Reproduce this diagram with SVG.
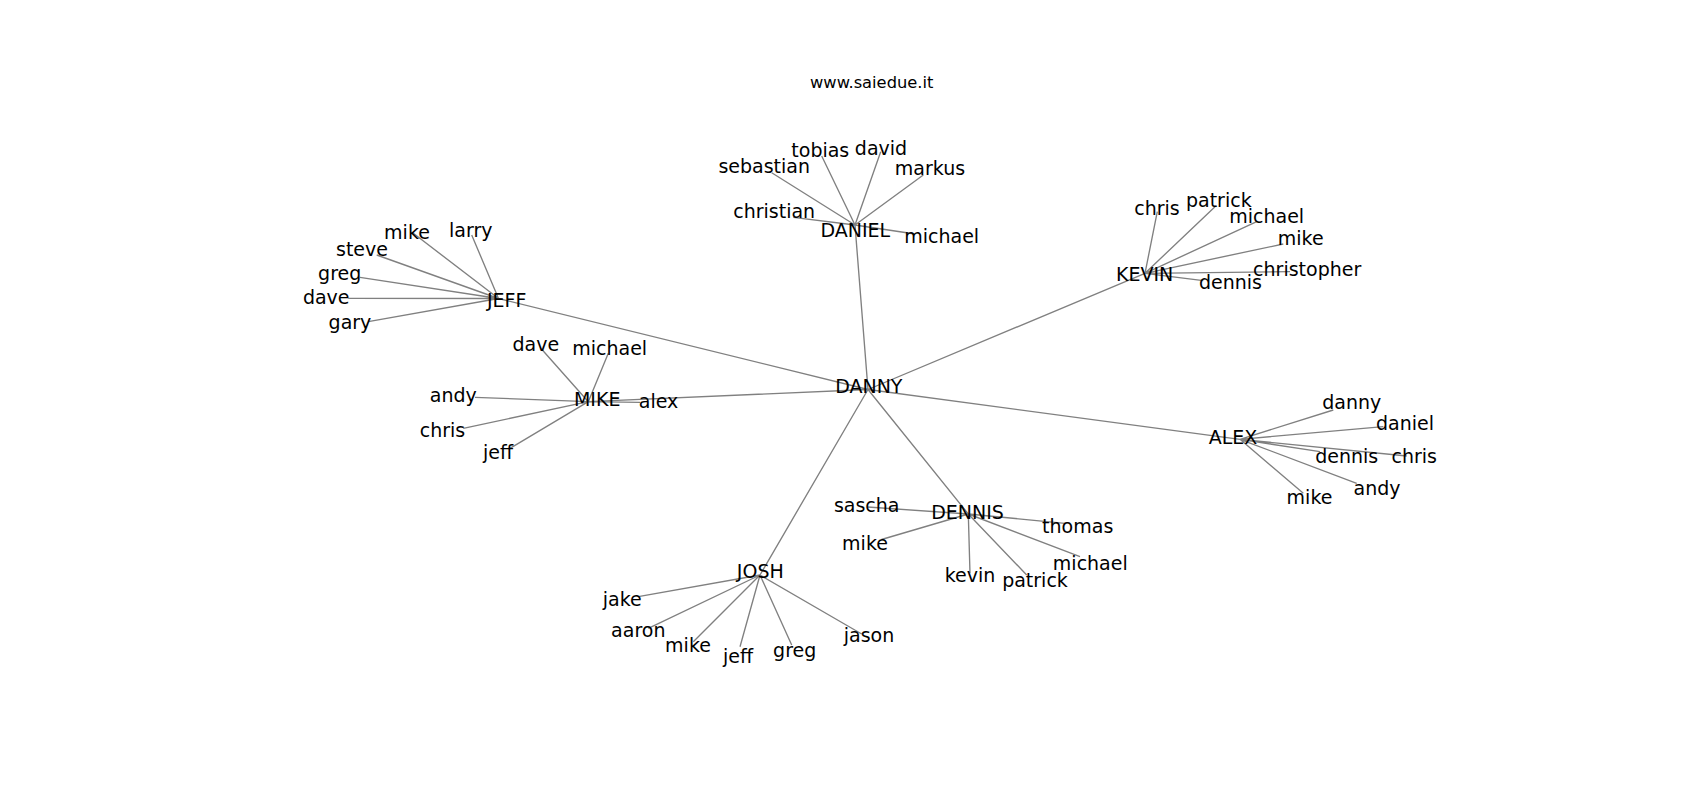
<svg xmlns="http://www.w3.org/2000/svg" width="1700" height="800" viewBox="0 0 1700 800">
<style>
.e{stroke:#808080;stroke-width:1.35;fill:none}
text{font-family:"DejaVu Sans",sans-serif;font-size:19px;fill:#000;text-anchor:middle}
.t{font-size:16.3px}
</style>
<rect width="1700" height="800" fill="#fff"/>
<text class="t" x="871.7" y="88">www.saiedue.it</text>
<g id="edges">
<path class="e" d="M868,389.5L498.5,298.5M868,389.5L588.3,401.7M868,389.5L855,225M868,389.5L1145,273.3M868,389.5L1240,439.3M868,389.5L760,575M868,389.5L968.3,514"/>
<path class="e" d="M498.5,298.5L471.7,235M498.5,298.5L413.3,233.3M498.5,298.5L376.7,255M498.5,298.5L360,277.3M498.5,298.5L348.3,298.3M498.5,298.5L368.3,321.7"/>
<path class="e" d="M588.3,401.7L541.7,349.3M588.3,401.7L608.3,353.3M588.3,401.7L475,397.3M588.3,401.7L463.3,428.3M588.3,401.7L510,448.3M588.3,401.7L640,402.3"/>
<path class="e" d="M855,225L771.7,172.7M855,225L821.7,156M855,225L880.7,151.7M855,225L923.3,175M855,225L793.3,217.3M855,225L915,234"/>
<path class="e" d="M1145,273.3L1157.3,211.7M1145,273.3L1215,206.7M1145,273.3L1256.7,221.7M1145,273.3L1283.3,244M1145,273.3L1290,271.7M1145,273.3L1203.3,280.7"/>
<path class="e" d="M1240,439.3L1333.3,410M1240,439.3L1383.3,426.7M1240,439.3L1320,451.7M1240,439.3L1406.7,456M1240,439.3L1356.7,483.3M1240,439.3L1303.3,493.3"/>
<path class="e" d="M760,575L638.3,596.7M760,575L648.3,628.3M760,575L693.3,641.7M760,575L740,646.7M760,575L791.7,645M760,575L861.7,634"/>
<path class="e" d="M968.3,514L867.5,507M968.3,514L881.5,539.5M968.3,514L1065,523.3M968.3,514L1080,556.7M968.3,514L970,573.3M968.3,514L1026.7,575"/>
</g>
<g id="DANNY"><text x="868.8" y="393.3">DANNY</text></g>
<g id="JEFF"><text x="506.7" y="306.7">JEFF</text></g>
<g id="MIKE"><text x="597.2" y="406">MIKE</text></g>
<g id="DANIEL"><text x="855.3" y="237">DANIEL</text></g>
<g id="KEVIN"><text x="1144.7" y="281">KEVIN</text></g>
<g id="ALEX"><text x="1233" y="444">ALEX</text></g>
<g id="JOSH"><text x="760.3" y="577.7">JOSH</text></g>
<g id="DENNIS"><text x="967.5" y="519.3">DENNIS</text></g>
<g id="jeff-leaves">
<text x="470.8" y="237.3">larry</text>
<text x="407" y="239.3">mike</text>
<text x="362" y="256">steve</text>
<text x="339.7" y="280">greg</text>
<text x="326.2" y="304">dave</text>
<text x="350" y="329">gary</text>
</g>
<g id="mike-leaves">
<text x="535.8" y="350.7">dave</text>
<text x="609.7" y="355">michael</text>
<text x="453.3" y="401.7">andy</text>
<text x="442.5" y="437.3">chris</text>
<text x="498" y="459.3">jeff</text>
<text x="658.5" y="408.3">alex</text>
</g>
<g id="daniel-leaves">
<text x="764.2" y="173.3">sebastian</text>
<text x="820.3" y="156.7">tobias</text>
<text x="881" y="155">david</text>
<text x="930" y="175">markus</text>
<text x="774.2" y="218.3">christian</text>
<text x="941.7" y="242.7">michael</text>
</g>
<g id="kevin-leaves">
<text x="1157" y="215">chris</text>
<text x="1218.8" y="206.7">patrick</text>
<text x="1266.7" y="222.7">michael</text>
<text x="1300.7" y="245">mike</text>
<text x="1307.2" y="276">christopher</text>
<text x="1230.5" y="289.3">dennis</text>
</g>
<g id="alex-leaves">
<text x="1351.7" y="409.3">danny</text>
<text x="1405" y="430">daniel</text>
<text x="1346.7" y="462.7">dennis</text>
<text x="1414.2" y="463.3">chris</text>
<text x="1377" y="495">andy</text>
<text x="1309.5" y="504">mike</text>
</g>
<g id="josh-leaves">
<text x="622.2" y="606">jake</text>
<text x="638.3" y="636.7">aaron</text>
<text x="688" y="651.7">mike</text>
<text x="738" y="662.7">jeff</text>
<text x="794.7" y="656.7">greg</text>
<text x="869" y="641.7">jason</text>
</g>
<g id="dennis-leaves">
<text x="866.7" y="511.7">sascha</text>
<text x="865" y="550">mike</text>
<text x="1077.7" y="532.7">thomas</text>
<text x="1090.3" y="570">michael</text>
<text x="970" y="581.7">kevin</text>
<text x="1035" y="586.7">patrick</text>
</g>
</svg>
